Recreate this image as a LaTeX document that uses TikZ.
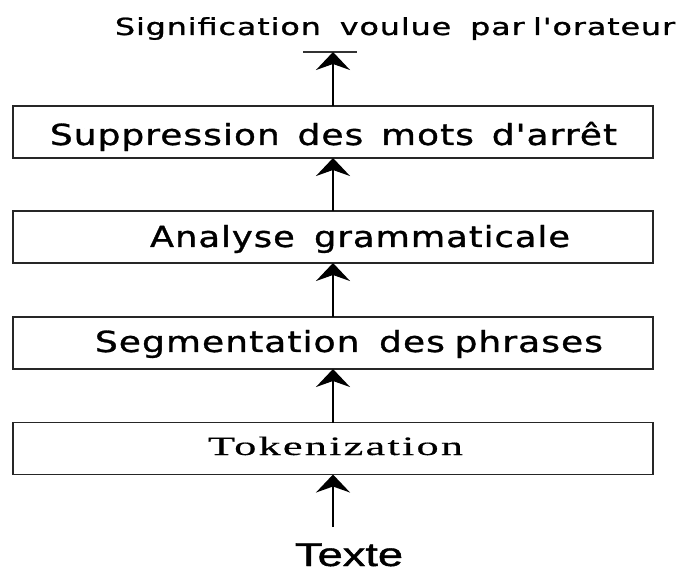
\documentclass[tikz,border=0pt]{standalone}
\usepackage{fontspec}
\usetikzlibrary{arrows.meta}
\newfontfamily\boxfont[LetterSpace=3,FakeBold=1]{DejaVu Sans}
\newfontfamily\txtfont[FakeBold=1.2]{Liberation Sans}
\newfontfamily\tokfont[LetterSpace=5,FakeBold=0.4]{Liberation Serif}
\newcommand\fitto[2]{\resizebox{#1}{\height}{#2}}
\tikzset{
  stagebox/.style={draw=black!85, line width=1.8pt, minimum width=640pt, minimum height=52pt, inner sep=0pt, outer sep=0pt},
  boxlabel/.style={anchor=base, inner sep=0pt, font=\boxfont\fontsize{29pt}{30pt}\selectfont},
  flowarrow/.style={line width=2pt, -{Stealth[length=18pt,width=34pt,inset=6pt]}},
}
\begin{document}
\begin{tikzpicture}[x=1pt,y=-1pt]
\useasboundingbox (0,0) rectangle (678,572);
% boxes
\node[stagebox] (b1) at (333,132) {};
\node[stagebox] (b2) at (333,237) {};
\node[stagebox] (b3) at (333,343) {};
\node[stagebox] (b4) at (333,448.5) {};
% labels
\node[boxlabel] (t1) at (333.5,145) {\fitto{567pt}{Suppression\hspace{0.15em} des\hspace{0.15em} mots\hspace{0.15em} d'arrêt}};
\node[boxlabel] (t2) at (360,247) {\fitto{420pt}{Analyse\hspace{0.2em} grammaticale}};
\node[boxlabel] (t3) at (349,352) {\fitto{508pt}{Segmentation\hspace{0.2em} des\hspace{-0.08em} phrases}};
\node[anchor=base, inner sep=0pt, font=\tokfont\fontsize{26.5pt}{28pt}\selectfont] (t4) at (335.5,455) {\fitto{255pt}{Tokenization}};
\node[anchor=base, inner sep=0pt, font=\boxfont\fontsize{23.5pt}{26pt}\selectfont] (goal) at (395,35) {\fitto{560pt}{Signification\hspace{0.25em} voulue\hspace{0.25em} par\hspace{-0.08em} l'orateur}};
\node[anchor=base, inner sep=0pt, font=\txtfont\fontsize{33pt}{36pt}\selectfont] (src) at (349,566) {\fitto{108pt}{Texte}};
% top bar
\coordinate (barL) at (303,52);
\coordinate (barR) at (357,52);
\coordinate (barM) at (333,52);
\draw[line width=1.3pt, black!80] (barL) -- (barR);
% bottom start
\coordinate (start) at (333,527);
% arrows
\draw[flowarrow] (start) -- (b4.south);
\draw[flowarrow] (b4.north) -- (b3.south);
\draw[flowarrow] (b3.north) -- (b2.south);
\draw[flowarrow] (b2.north) -- (b1.south);
\draw[flowarrow] (b1.north) -- (barM);
\end{tikzpicture}
\end{document}
